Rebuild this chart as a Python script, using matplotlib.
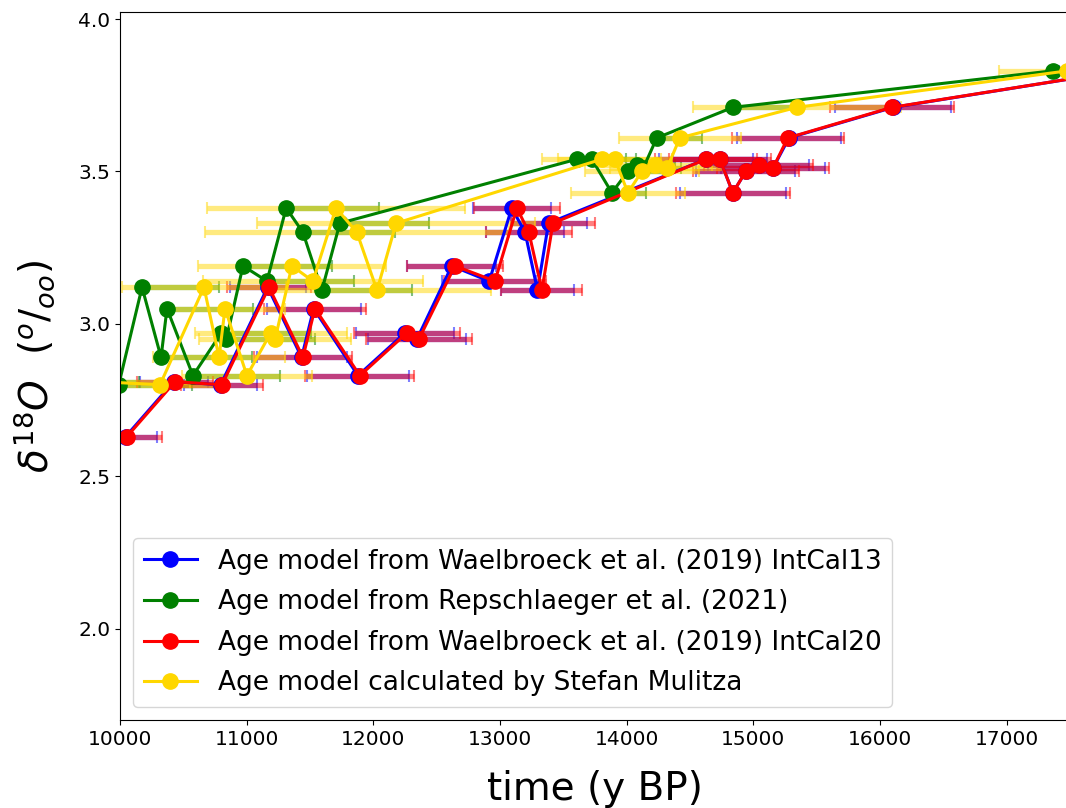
import matplotlib
matplotlib.use("Agg")
import matplotlib.pyplot as plt
import numpy as np

# shared d18O values (per mille)
d18o = [2.63, 2.81, 2.80, 3.12, 2.89, 3.05, 2.83, 2.97, 2.95, 3.19, 3.14, 3.38,
        3.30, 3.11, 3.33, 3.54, 3.54, 3.43, 3.50, 3.52, 3.51, 3.61, 3.71, 3.83]

# Waelbroeck et al. (2019) IntCal20
age_ic20 = [10055, 10434, 10805, 11176, 11444, 11539, 11894, 12265, 12360, 12644,
            12960, 13133, 13228, 13331, 13418, 14625, 14736, 14838, 14941, 15043,
            15154, 15272, 16093, 17900]
err_ic20 = [275, 300, 320, 330, 385, 400, 430, 420, 420, 380, 400, 340, 340, 320,
            330, 400, 400, 450, 420, 430, 440, 440, 490, 520]

# Waelbroeck et al. (2019) IntCal13
age_ic13 = [10045, 10424, 10795, 11166, 11434, 11529, 11879, 12250, 12345, 12619,
            12915, 13093, 13198, 13296, 13383, 14625, 14736, 14838, 14941, 15043,
            15154, 15282, 16103, 17900]
err_ic13 = [245, 270, 290, 300, 355, 370, 400, 390, 390, 350, 370, 310, 310, 290,
            300, 370, 370, 420, 390, 400, 410, 410, 460, 490]

# Repschlaeger et al. (2021)  (one-sided age uncertainty, towards older ages)
age_rep = [9200, 9750, 9990, 10174, 10324, 10371, 10576, 10800, 10840, 10971,
           11160, 11312, 11444, 11594, 11736, 13607, 13725, 13883, 14010, 14081,
           14130, 14238, 14838, 17364]
err_rep = [400, 400, 576, 610, 720, 680, 690, 710, 700, 700, 690, 730, 730, 710,
           700, 390, 350, 270, 300, 300, 300, 355, 500, 500]

# Stefan Mulitza
age_mul = [9000, 9850, 10316, 10663, 10782, 10829, 11002, 11190, 11225, 11357,
           11523, 11705, 11870, 12029, 12180, 13804, 13907, 14010, 14120, 14223,
           14318, 14420, 15343, 17480]
err_mul = [800, 700, 500, 650, 520, 475, 510, 600, 600, 740, 870, 1020, 1200, 900,
           1100, 470, 450, 450, 450, 450, 450, 480, 820, 540]

labels = ["Age model from Waelbroeck et al. (2019) IntCal13",
          "Age model from Repschlaeger et al. (2021)",
          "Age model from Waelbroeck et al. (2019) IntCal20",
          "Age model calculated by Stefan Mulitza"]
colors = ["blue", "green", "red", "gold"]

fig = plt.figure(figsize=(10.66, 8.08), dpi=100)
ax = fig.add_axes([120/1066, 1-720/808, 950/1066, 708/808])

xerrs = [err_ic13, [np.zeros(len(err_rep)), err_rep], err_ic20, err_mul]
ages = [age_ic13, age_rep, age_ic20, age_mul]
handles = []
for age, xe, col, lab in zip(ages, xerrs, colors, labels):
    c = ax.errorbar(age, d18o, xerr=xe, fmt='o-', color=col, ecolor=col,
                    elinewidth=3.8, capsize=4.5, capthick=1.5, lw=2.2, ms=11,
                    label=lab)
    for b in c[2]:
        b.set_alpha(0.5)
    for cp in c[1]:
        cp.set_alpha(0.5)
    handles.append(c[0])

ax.set_xlim(10000, 17500)
ax.set_ylim(1.70, 4.023)
ax.set_yticks([2.0, 2.5, 3.0, 3.5, 4.0])
ax.set_xticks([10000, 11000, 12000, 13000, 14000, 15000, 16000, 17000])
ax.tick_params(labelsize=14.5)
ax.set_xlabel("time (y BP)", fontsize=28, labelpad=15)
ax.set_ylabel(r"$\delta^{18}O\ \ (^{o}/_{oo})$", fontsize=28, labelpad=15)
ax.legend(handles=handles, labels=labels, loc="lower left", fontsize=19,
          labelspacing=0.55, borderaxespad=0.5)

fig.savefig("out.png", dpi=100)
